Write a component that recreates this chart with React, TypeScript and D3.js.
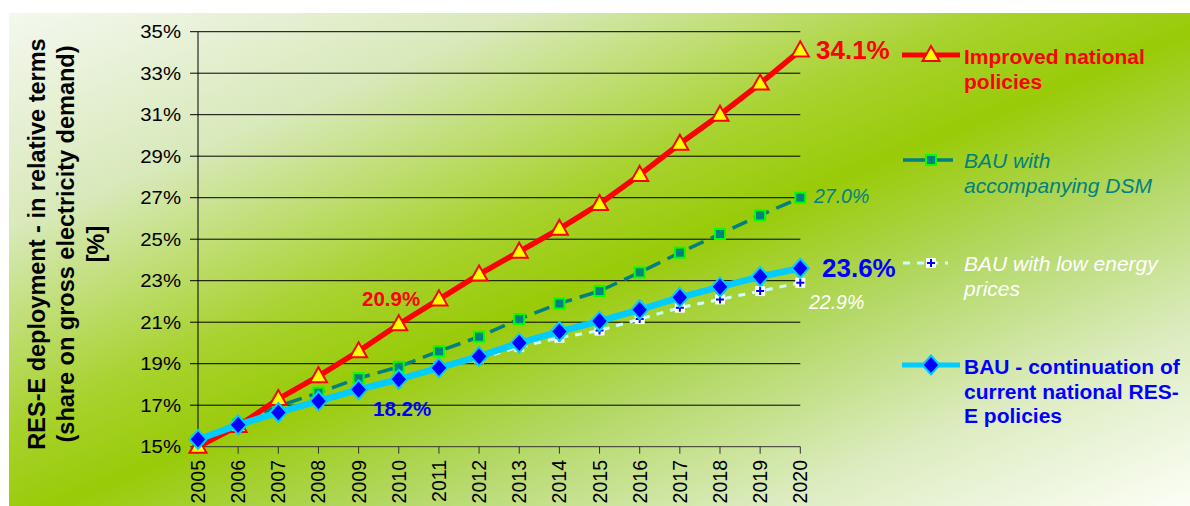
import React from "react";
import * as d3 from "d3";

const years = [2005, 2006, 2007, 2008, 2009, 2010, 2011, 2012, 2013, 2014, 2015, 2016, 2017, 2018, 2019, 2020];
const improved = [15.0, 16.0, 17.3, 18.4, 19.6, 20.9, 22.1, 23.3, 24.4, 25.5, 26.7, 28.1, 29.6, 31.0, 32.5, 34.1];
const bauDsm = [15.3, 16.1, 16.95, 17.6, 18.3, 18.85, 19.6, 20.3, 21.15, 21.9, 22.5, 23.4, 24.35, 25.25, 26.15, 27.0];
const bauLowEnergy = [15.3, 16.0, 16.6, 17.2, 17.75, 18.2, 18.75, 19.25, 19.8, 20.25, 20.6, 21.15, 21.7, 22.1, 22.5, 22.9];
const bauContinuation = [15.35, 16.05, 16.65, 17.2, 17.75, 18.25, 18.8, 19.35, 20.0, 20.55, 21.05, 21.6, 22.2, 22.7, 23.2, 23.6];
const yTicks = [15, 17, 19, 21, 23, 25, 27, 29, 31, 33, 35];

const FONT = "'Liberation Sans', Arial, sans-serif";

export default function App() {
  const x = d3.scaleLinear().domain([2005, 2020]).range([198, 800.3]);
  const y = d3.scaleLinear().domain([15, 35]).range([446.7, 31.7]);
  const line = (vals: number[]) =>
    d3.line<number>().x((_, i) => x(years[i])).y((v) => y(v))(vals) || "";

  const tri = (cx: number, cy: number, key: string) => (
    <path key={key} d={`M${cx},${cy - 9}L${cx + 8.5},${cy + 6}L${cx - 8.5},${cy + 6}Z`}
      fill="#ffff00" stroke="#ff0000" strokeWidth={2} />
  );
  const sq = (cx: number, cy: number, key: string) => (
    <rect key={key} x={cx - 5} y={cy - 5} width={10} height={10} fill="#008080" stroke="#00ff00" strokeWidth={2} />
  );
  const dia = (cx: number, cy: number, key: string) => (
    <path key={key} d={`M${cx},${cy - 9.5}L${cx + 8.5},${cy}L${cx},${cy + 9.5}L${cx - 8.5},${cy}Z`}
      fill="#0000ff" stroke="#00ccff" strokeWidth={2} />
  );
  const plus = (cx: number, cy: number, key: string) => (
    <g key={key}>
      <rect x={cx - 5} y={cy - 5} width={10} height={10} fill="#ffffff" />
      <path d={`M${cx - 4},${cy}H${cx + 4}M${cx},${cy - 4}V${cy + 4}`} stroke="#0000ff" strokeWidth={2} />
    </g>
  );

  return (
    <svg width={1190} height={506} style={{ position: "absolute", left: 0, top: 0 }} fontFamily={FONT}>
      <defs>
        <linearGradient id="bg" x1="0" y1="0" x2="1" y2="1">
          <stop offset="0" stopColor="#f4f8ef" />
          <stop offset="0.22" stopColor="#d8e9ba" />
          <stop offset="0.42" stopColor="#a8d22e" />
          <stop offset="0.52" stopColor="#99cb08" />
          <stop offset="0.66" stopColor="#b4d866" />
          <stop offset="0.82" stopColor="#dcecc0" />
          <stop offset="1" stopColor="#fcfef6" />
        </linearGradient>
      </defs>
      <rect x={0} y={0} width={1190} height={506} fill="#ffffff" />
      <rect x={9} y={13} width={1181} height={493} fill="url(#bg)" />

      {/* gridlines */}
      {yTicks.map((t) => (
        <g key={t}>
          <line x1={190} x2={800.3} y1={y(t)} y2={y(t)} stroke={t === 15 ? "#333" : "#000"} strokeWidth={1} />
          <g transform={`translate(181,${y(t) + 6.5}) scale(1.1,1)`}>
            <text textAnchor="end" fontSize={18.5} fill="#000">{t}%</text>
          </g>
        </g>
      ))}
      <line x1={198} x2={198} y1={y(35)} y2={y(15)} stroke="#000" strokeWidth={1} />
      {years.map((yr) => (
        <g key={yr}>
          <line x1={x(yr)} x2={x(yr)} y1={y(15)} y2={y(15) + 7} stroke="#333" strokeWidth={1} />
          <text transform={`translate(${x(yr) + 7},460) rotate(-90)`} textAnchor="end" fontSize={19.5} fill="#000">{yr}</text>
        </g>
      ))}

      {/* y axis title */}
      <g transform="translate(0,244) rotate(-90)" fontWeight="bold" fontSize={23.5} fill="#000" textAnchor="middle">
        <text x={0} y={45}>RES-E deployment - in relative terms</text>
        <text x={0} y={74}>(share on gross electricity demand)</text>
        <text x={0} y={104}>[%]</text>
      </g>

      {/* series */}
      <path d={line(bauLowEnergy)} fill="none" stroke="#ccffff" strokeWidth={3} strokeDasharray="7,7" />
      {bauLowEnergy.map((v, i) => plus(x(years[i]), y(v), "p" + i))}

      <path d={line(bauDsm)} fill="none" stroke="#008080" strokeWidth={3.5} strokeDasharray="16,8" />
      {bauDsm.map((v, i) => sq(x(years[i]), y(v), "s" + i))}

      <path d={line(improved)} fill="none" stroke="#ff0000" strokeWidth={5.5} />
      {improved.map((v, i) => tri(x(years[i]), y(v), "t" + i))}

      <path d={line(bauContinuation)} fill="none" stroke="#00ccff" strokeWidth={6.5} />
      {bauContinuation.map((v, i) => dia(x(years[i]), y(v), "d" + i))}

      {/* value labels */}
      <text x={816} y={59} fontSize={26} fontWeight="bold" fill="#ff0000">34.1%</text>
      <text x={814} y={203} fontSize={19.5} fontStyle="italic" fill="#008080">27.0%</text>
      <text x={822} y={277} fontSize={26} fontWeight="bold" fill="#0000ff">23.6%</text>
      <text x={809} y={309} fontSize={19.5} fontStyle="italic" fill="#ffffff">22.9%</text>
      <text x={362} y={306} fontSize={20.5} fontWeight="bold" fill="#ff0000">20.9%</text>
      <text x={373} y={416} fontSize={20.5} fontWeight="bold" fill="#0000ff">18.2%</text>

      {/* legend */}
      <g>
        <line x1={902} x2={960} y1={55} y2={55} stroke="#ff0000" strokeWidth={5} />
        {tri(931, 55, "lt")}
        <text x={964} y={64} fontSize={21} fontWeight="bold" fill="#ff0000">
          <tspan x={964}>Improved national</tspan>
          <tspan x={964} dy={25}>policies</tspan>
        </text>

        <line x1={903} x2={958} y1={160} y2={160} stroke="#008080" strokeWidth={3.5} strokeDasharray="22,6" />
        {sq(931, 160, "ls")}
        <text x={964} y={168} fontSize={21} fontStyle="italic" fill="#008080">
          <tspan x={964}>BAU with</tspan>
          <tspan x={964} dy={25}>accompanying DSM</tspan>
        </text>

        <line x1={903} x2={948} y1={263} y2={263} stroke="#ccffff" strokeWidth={3} strokeDasharray="7,7" />
        {plus(931, 263, "lp")}
        <text x={964} y={271} fontSize={21} fontStyle="italic" fill="#ffffff">
          <tspan x={964}>BAU with low energy</tspan>
          <tspan x={964} dy={25}>prices</tspan>
        </text>

        <line x1={902} x2={960} y1={365} y2={365} stroke="#00ccff" strokeWidth={5} />
        {dia(931, 365, "ld")}
        <text x={964} y={374} fontSize={21} fontWeight="bold" fill="#0000ff">
          <tspan x={964}>BAU - continuation of</tspan>
          <tspan x={964} dy={24.5}>current national RES-</tspan>
          <tspan x={964} dy={24.5}>E policies</tspan>
        </text>
      </g>
    </svg>
  );
}
